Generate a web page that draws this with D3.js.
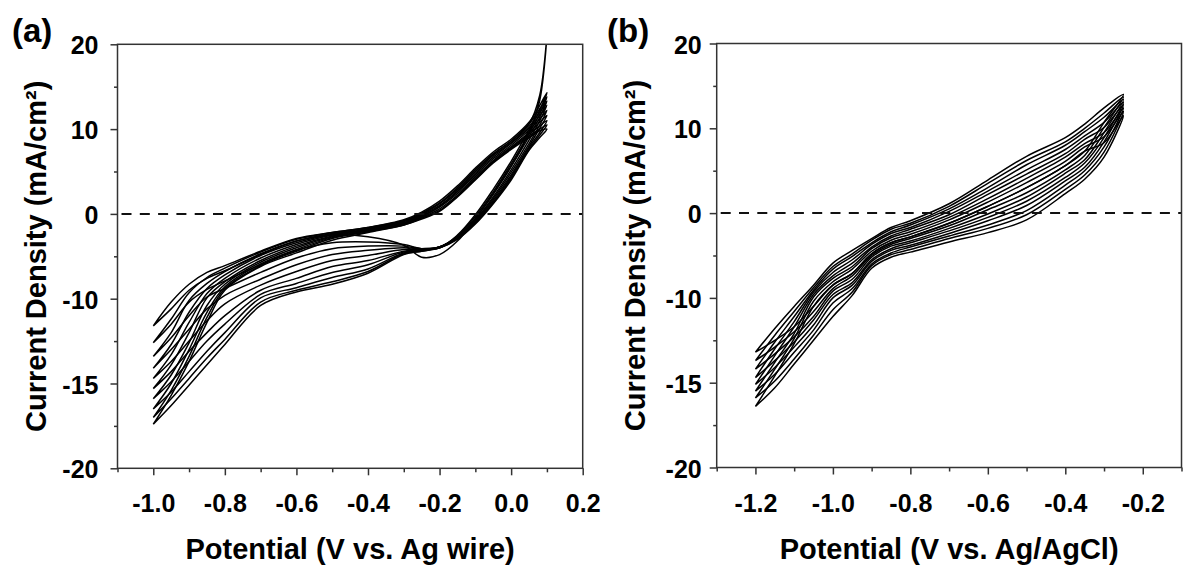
<!DOCTYPE html>
<html><head><meta charset="utf-8">
<script src="https://cdn.jsdelivr.net/npm/d3@7"></script>
<style>
html,body{margin:0;padding:0;background:#fff;}
svg text{font-family:"Liberation Sans",Arial,Helvetica,sans-serif;font-weight:bold;fill:#000;}
</style></head><body>
<svg id="chart" width="1185" height="574"></svg>
<script>
// ---------------- data ----------------
const yTickValues = [20, 10, 0, -10, -15, -20];
const yMinorValues = [15, 5, -5, -12.5, -17.5];

const xTicksA = [-1.0, -0.8, -0.6, -0.4, -0.2, 0.0, 0.2];
const xMinorA = [-1.1, -0.9, -0.7, -0.5, -0.3, -0.1, 0.1];
const xTicksB = [-1.2, -1.0, -0.8, -0.6, -0.4, -0.2];
const xMinorB = [-1.3, -1.1, -0.9, -0.7, -0.5, -0.3, -0.1];

// panel (a): potential grid (V vs. Ag wire) and current density of each cycle
const potentialA = [-1.0, -0.95, -0.9, -0.85, -0.8, -0.7, -0.6, -0.5, -0.4, -0.3, -0.25, -0.2, -0.15, -0.1, -0.05, 0.0, 0.05, 0.08, 0.1];
const forwardA = [
  [-11.6, -10.6, -9.0, -7.6, -6.7, -4.8, -3.2, -2.5, -2.7, -3.7, -5.1, -4.8, -3.2, -0.6, 2.4, 5.6, 9.6, 13.4, 21],
  [-12.6, -11.5, -10.2, -8.9, -7.9, -6.0, -4.3, -3.4, -3.3, -3.6, -4.1, -4.0, -2.5, -0.1, 2.9, 6.2, 9.9, 12.2, 14.3],
  [-13.4, -12.3, -11.0, -9.8, -8.8, -6.9, -5.2, -4.1, -3.8, -3.8, -4.1, -3.9, -2.6, -0.3, 2.6, 5.9, 9.5, 11.8, 13.8],
  [-14.1, -13.0, -11.8, -10.6, -9.6, -7.7, -6.0, -4.8, -4.3, -4.0, -4.1, -3.9, -2.7, -0.5, 2.3, 5.6, 9.1, 11.4, 13.3],
  [-14.7, -13.7, -12.5, -11.3, -10.3, -8.4, -6.8, -5.5, -4.9, -4.2, -4.2, -3.9, -2.7, -0.7, 2.0, 5.2, 8.7, 11.0, 12.8],
  [-15.3, -14.3, -13.1, -12.0, -11.0, -9.0, -7.6, -6.2, -5.5, -4.4, -4.2, -3.9, -2.8, -0.8, 1.8, 4.9, 8.3, 10.5, 12.2],
  [-15.9, -14.9, -13.7, -12.5, -11.5, -9.5, -8.2, -6.9, -6.0, -4.5, -4.3, -3.9, -2.8, -0.9, 1.6, 4.6, 8.0, 10.1, 11.6],
  [-16.5, -15.5, -14.3, -13.1, -12.0, -9.9, -8.7, -7.5, -6.5, -4.6, -4.3, -4.0, -2.9, -1.0, 1.4, 4.4, 7.8, 9.6, 11.0],
  [-17.0, -15.9, -14.7, -13.5, -12.4, -10.2, -9.0, -8.0, -6.8, -4.7, -4.4, -4.0, -2.9, -1.1, 1.3, 4.2, 7.6, 9.3, 10.5],
  [-17.4, -16.3, -15.1, -13.9, -12.7, -10.4, -9.2, -8.3, -7.0, -4.8, -4.4, -4.0, -3.0, -1.2, 1.2, 4.0, 7.5, 9.0, 10.0]
];
const reverseA = [
  [-11.6, -10.2, -8.3, -6.9, -6.1, -4.4, -2.9, -2.2, -1.6, -0.8, 0.0, 1.2, 2.9, 5.0, 7.0, 8.6, 10.6, 14.0, 21],
  [-12.6, -11.2, -9.3, -7.5, -6.4, -4.5, -3.0, -2.2, -1.6, -0.7, 0.2, 1.5, 3.3, 5.4, 7.3, 8.8, 10.8, 12.8, 14.3],
  [-13.4, -12.0, -10.1, -8.2, -6.8, -4.7, -3.2, -2.3, -1.7, -0.8, 0.1, 1.3, 3.1, 5.2, 7.1, 8.6, 10.6, 12.4, 13.8],
  [-14.1, -12.7, -10.8, -8.8, -7.2, -4.9, -3.4, -2.4, -1.8, -0.9, 0.0, 1.2, 2.9, 5.0, 6.9, 8.4, 10.3, 12.0, 13.3],
  [-14.7, -13.3, -11.4, -9.4, -7.6, -5.2, -3.6, -2.5, -1.8, -1.0, -0.1, 1.0, 2.7, 4.8, 6.7, 8.3, 10.1, 11.6, 12.8],
  [-15.3, -13.9, -12.0, -9.9, -8.0, -5.5, -3.8, -2.6, -1.9, -1.1, -0.2, 0.9, 2.6, 4.6, 6.5, 8.1, 9.9, 11.2, 12.2],
  [-15.9, -14.5, -12.6, -10.4, -8.3, -5.7, -4.0, -2.7, -2.0, -1.1, -0.3, 0.8, 2.4, 4.4, 6.3, 7.9, 9.6, 10.8, 11.6],
  [-16.5, -15.0, -13.0, -10.8, -8.6, -5.9, -4.2, -2.8, -2.0, -1.2, -0.4, 0.6, 2.2, 4.2, 6.2, 7.8, 9.4, 10.4, 11.0],
  [-17.0, -15.4, -13.4, -11.1, -8.8, -6.1, -4.4, -2.9, -2.1, -1.3, -0.5, 0.4, 2.1, 4.1, 6.1, 7.7, 9.2, 10.0, 10.5],
  [-17.4, -15.7, -13.7, -11.4, -9.0, -6.2, -4.6, -3.1, -2.2, -1.3, -0.6, 0.3, 2.0, 4.0, 6.0, 7.6, 9.0, 9.8, 10.0]
];

// panel (b): potential grid (V vs. Ag/AgCl) and current density of each cycle
const potentialB = [-1.2, -1.15, -1.1, -1.05, -1.0, -0.95, -0.9, -0.85, -0.8, -0.7, -0.6, -0.5, -0.4, -0.35, -0.3, -0.25];
const upperB = [
  [-13.2, -11.8, -10.5, -8.5, -5.9, -4.4, -3.0, -1.7, -0.9, 1.1, 3.9, 6.7, 8.9, 10.5, 12.4, 14.0],
  [-13.7, -12.2, -10.8, -8.8, -6.3, -4.8, -3.2, -1.9, -1.2, 0.8, 3.5, 6.2, 8.4, 10.0, 11.8, 13.7],
  [-14.2, -12.6, -11.1, -9.1, -6.6, -5.1, -3.5, -2.2, -1.4, 0.5, 3.0, 5.7, 8.0, 9.6, 11.3, 13.4],
  [-14.7, -13.0, -11.4, -9.3, -7.0, -5.5, -3.7, -2.4, -1.7, 0.2, 2.6, 5.1, 7.5, 9.1, 10.7, 13.1],
  [-15.1, -13.4, -11.7, -9.6, -7.4, -5.9, -4.0, -2.7, -1.9, -0.2, 2.2, 4.6, 7.0, 8.7, 10.1, 12.8],
  [-15.5, -13.8, -12.1, -9.9, -7.7, -6.3, -4.2, -2.9, -2.2, -0.5, 1.7, 4.1, 6.6, 8.2, 9.5, 12.4],
  [-15.9, -14.2, -12.4, -10.2, -8.1, -6.6, -4.5, -3.2, -2.5, -0.8, 1.3, 3.6, 6.1, 7.8, 9.0, 12.0],
  [-16.4, -14.6, -12.7, -10.5, -8.5, -7.1, -4.8, -3.5, -2.8, -1.2, 0.8, 3.0, 5.6, 7.3, 8.3, 11.5]
];
const lowerB = [
  [-13.2, -12.5, -11.7, -10.5, -8.5, -7.1, -4.8, -3.5, -2.8, -1.2, 0.8, 3.0, 5.6, 7.3, 10.7, 14.0],
  [-13.7, -12.9, -12.0, -10.8, -8.9, -7.4, -5.0, -3.7, -3.0, -1.5, 0.4, 2.4, 5.1, 6.8, 10.1, 13.7],
  [-14.2, -13.3, -12.3, -11.1, -9.2, -7.8, -5.2, -3.9, -3.3, -1.8, -0.1, 1.9, 4.7, 6.3, 9.5, 13.4],
  [-14.7, -13.7, -12.6, -11.3, -9.6, -8.2, -5.5, -4.2, -3.5, -2.1, -0.5, 1.4, 4.2, 5.9, 8.9, 13.1],
  [-15.1, -14.1, -12.9, -11.6, -10.0, -8.5, -5.7, -4.4, -3.8, -2.4, -0.9, 0.9, 3.8, 5.4, 8.4, 12.8],
  [-15.5, -14.5, -13.2, -11.9, -10.3, -8.9, -6.0, -4.7, -4.0, -2.7, -1.4, 0.3, 3.3, 5.0, 7.8, 12.4],
  [-15.9, -14.9, -13.6, -12.2, -10.7, -9.3, -6.2, -4.9, -4.3, -3.0, -1.8, -0.2, 2.8, 4.5, 7.2, 12.0],
  [-16.4, -15.3, -13.9, -12.5, -11.1, -9.7, -6.5, -5.2, -4.6, -3.4, -2.3, -0.8, 2.3, 4.0, 6.6, 11.5]
];

const yTitle = "Current Density (mA/cm²)";

// ---------------- build loops ----------------
function loops(pot, a, b) {
  return a.map((row, k) => {
    const pts = pot.map((v, i) => [v, row[i]]);
    const back = pot.map((v, i) => [v, b[k][i]]).reverse().slice(1);
    return pts.concat(back);
  });
}

const panels = [
  { id: "a", label: "(a)", labelX: 12, left: 117.5, right: 582.7, top: 44.3, bottom: 468.3,
    xDomain: [-1.1, 0.2], xTicks: xTicksA, xMinor: xMinorA, yLabelGap: 19,
    xTitle: "Potential (V vs. Ag wire)", cycles: loops(potentialA, forwardA, reverseA) },
  { id: "b", label: "(b)", labelX: 607, left: 716.7, right: 1181.5, top: 43.5, bottom: 467.5,
    xDomain: [-1.3, -0.1], xTicks: xTicksB, xMinor: xMinorB, yLabelGap: 15,
    xTitle: "Potential (V vs. Ag/AgCl)", cycles: loops(potentialB, lowerB, upperB) }
];

const svg = d3.select("#chart");

panels.forEach(p => {
  const g = svg.append("g");
  const x = d3.scaleLinear().domain(p.xDomain).range([p.left, p.right]);
  const step = (p.bottom - p.top) / (yTickValues.length - 1);
  const y = d3.scaleLinear().domain(yTickValues).range(yTickValues.map((d, i) => p.top + i * step));

  g.append("clipPath").attr("id", "clip-" + p.id)
    .append("rect").attr("x", p.left).attr("y", p.top)
    .attr("width", p.right - p.left).attr("height", p.bottom - p.top);

  const line = d3.line().x(d => x(d[0])).y(d => y(d[1])).curve(d3.curveCatmullRom.alpha(0.5));
  g.append("g").attr("clip-path", `url(#clip-${p.id})`)
    .selectAll("path").data(p.cycles).join("path")
    .attr("d", line).attr("fill", "none").attr("stroke", "#000")
    .attr("stroke-width", 1.5).attr("stroke-linejoin", "round");

  // zero line
  g.append("line").attr("x1", p.left + 4).attr("x2", p.right)
    .attr("y1", y(0)).attr("y2", y(0))
    .attr("stroke", "#111").attr("stroke-width", 2).attr("stroke-dasharray", "10,8.3");

  // frame
  g.append("rect").attr("x", p.left).attr("y", p.top)
    .attr("width", p.right - p.left).attr("height", p.bottom - p.top)
    .attr("fill", "none").attr("stroke", "#333").attr("stroke-width", 1.5);

  // x axis
  const xa = g.append("g").attr("transform", `translate(0,${p.bottom})`);
  xa.append("g").call(d3.axisBottom(x).tickValues(p.xMinor).tickSize(4).tickFormat(""))
    .call(s => s.select(".domain").remove());
  xa.append("g").call(d3.axisBottom(x).tickValues(p.xTicks).tickSize(7).tickFormat(d => d.toFixed(1)))
    .call(s => s.select(".domain").remove())
    .call(s => s.selectAll("text").attr("y", 44).attr("dy", null).style("font-size", "25px"));
  xa.selectAll("line").attr("stroke", "#333").attr("stroke-width", 1.5);

  // y axis
  const ya = g.append("g").attr("transform", `translate(${p.left},0)`);
  ya.append("g").call(d3.axisLeft(y).tickValues(yMinorValues).tickSize(3.5).tickFormat(""))
    .call(s => s.select(".domain").remove());
  ya.append("g").call(d3.axisLeft(y).tickValues(yTickValues).tickSize(7).tickFormat(d => String(d)))
    .call(s => s.select(".domain").remove())
    .call(s => s.selectAll("text").attr("x", -p.yLabelGap).attr("dy", null).attr("y", 9.5).style("font-size", "25px"));
  ya.selectAll("line").attr("stroke", "#333").attr("stroke-width", 1.5);

  // titles
  g.append("text").attr("x", (p.left + p.right) / 2).attr("y", 558.5)
    .attr("text-anchor", "middle").style("font-size", "29px").text(p.xTitle);
  g.append("text").attr("transform", `translate(${p.left - 72},${(p.top + p.bottom) / 2}) rotate(-90)`)
    .attr("text-anchor", "middle").style("font-size", "29px").text(yTitle);
  g.append("text").attr("x", p.labelX).attr("y", 42).style("font-size", "33px").text(p.label);
});
</script>
</body></html>
